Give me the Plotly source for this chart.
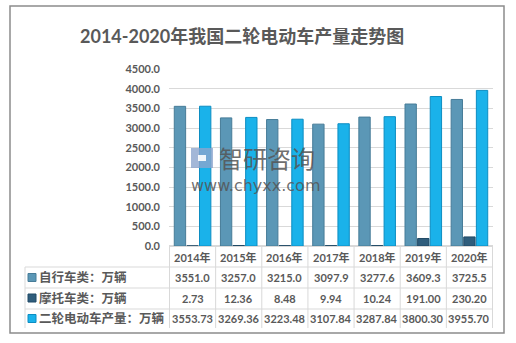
import plotly.graph_objects as go

years = ["2014年", "2015年", "2016年", "2017年", "2018年", "2019年", "2020年"]
bicycle = [3551.0, 3257.0, 3215.0, 3097.9, 3277.6, 3609.3, 3725.5]
motorcycle = [2.73, 12.36, 8.48, 9.94, 10.24, 191.00, 230.20]
total = [3553.73, 3269.36, 3223.48, 3107.84, 3287.84, 3800.30, 3955.70]

bicycle_txt = ["3551.0", "3257.0", "3215.0", "3097.9", "3277.6", "3609.3", "3725.5"]
motorcycle_txt = ["2.73", "12.36", "8.48", "9.94", "10.24", "191.00", "230.20"]
total_txt = ["3553.73", "3269.36", "3223.48", "3107.84", "3287.84", "3800.30", "3955.70"]

names = ["自行车类：万辆", "摩托车类：万辆", "二轮电动车产量：万辆"]
colors = ["#5B97B6", "#2F5D7C", "#1AB2EA"]
lines = ["#477C98", "#214A66", "#0C8DC2"]

W, H = 516, 343
L, R, T, B = 169, 23, 69, 97
PW, PH = W - L - R, H - T - B

def px(x):
    return (x - L) / PW

def py(y):
    return (H - B - y) / PH

font_fam = "Lato, 'Noto Sans CJK SC', sans-serif"
gray = "#595959"

fig = go.Figure()
for vals, nm, c, lc in zip([bicycle, motorcycle, total], names, colors, lines):
    fig.add_trace(go.Bar(x=years, y=vals, name=nm, marker=dict(color=c, line=dict(color=lc, width=1))))

shapes = []
# outer border
shapes.append(dict(type="rect", xref="paper", yref="paper", x0=px(10), x1=px(504), y0=py(6), y1=py(333),
                   line=dict(color="#8C8C8C", width=1.5), fillcolor="rgba(0,0,0,0)", layer="below"))
tbl = "#D9D9D9"
row_lines = [267, 288, 309]
for ry in row_lines:
    shapes.append(dict(type="line", xref="paper", yref="paper", x0=px(25), x1=1, y0=py(ry), y1=py(ry),
                       line=dict(color=tbl, width=1)))
for k in range(len(years) + 1):
    shapes.append(dict(type="line", xref="x", yref="paper", x0=k - 0.5, x1=k - 0.5, y0=0, y1=py(328),
                       line=dict(color=tbl, width=1)))
shapes.append(dict(type="line", xref="paper", yref="paper", x0=px(25), x1=px(25), y0=py(267), y1=py(328),
                   line=dict(color=tbl, width=1)))

annotations = []
row_y = [277.5, 298, 318.5]
for i, y in enumerate(years):
    annotations.append(dict(x=y, xref="x", y=py(257), yref="paper", text=y, showarrow=False,
                            xanchor="center", yanchor="middle",
                            font=dict(family=font_fam, size=11, color=gray, weight="bold")))
for rtexts, ry in zip([bicycle_txt, motorcycle_txt, total_txt], row_y):
    for y, t in zip(years, rtexts):
        annotations.append(dict(x=y, xref="x", y=py(ry), yref="paper", text=t, showarrow=False,
                                xanchor="center", yanchor="middle",
                                font=dict(family=font_fam, size=11, color=gray, weight="bold")))
for nm, c, lc, ry in zip(names, colors, lines, row_y):
    shapes.append(dict(type="rect", xref="paper", yref="paper", x0=px(28), x1=px(36), y0=py(ry + 4), y1=py(ry - 4),
                       fillcolor=c, line=dict(color=lc, width=1)))
    annotations.append(dict(x=px(37), xref="paper", y=py(ry), yref="paper", text=nm, showarrow=False,
                            xanchor="left", yanchor="middle",
                            font=dict(family=font_fam, size=12.5, color=gray, weight="bold")))

# title
annotations.append(dict(x=px(242), xref="paper", y=py(36), yref="paper", text="2014-2020年我国二轮电动车产量走势图",
                        showarrow=False, xanchor="center", yanchor="middle",
                        font=dict(family=font_fam, size=18, color=gray, weight="bold")))
# watermark
annotations.append(dict(x=px(217), xref="paper", y=py(157), yref="paper", text="智研咨询", showarrow=False,
                        xanchor="left", yanchor="middle",
                        font=dict(family="'Noto Sans CJK SC', sans-serif", size=24, color="rgba(85,85,85,0.85)")))
annotations.append(dict(x=px(189), xref="paper", y=py(185), yref="paper", text="www.chyxx.com", showarrow=False,
                        xanchor="left", yanchor="middle",
                        font=dict(family="'DejaVu Sans', sans-serif", size=16, color="rgba(85,85,85,0.85)")))
# watermark icon
shapes.append(dict(type="rect", xref="paper", yref="paper", x0=px(191), x1=px(213), y0=py(168), y1=py(148),
                   fillcolor="rgba(140,165,205,0.8)", line=dict(width=0)))
shapes.append(dict(type="rect", xref="paper", yref="paper", x0=px(198), x1=px(206), y0=py(161), y1=py(155),
                   fillcolor="rgba(255,255,255,0.9)", line=dict(width=0)))

fig.update_layout(
    width=W, height=H, margin=dict(l=L, r=R, t=T, b=B),
    paper_bgcolor="white", plot_bgcolor="white",
    barmode="group", bargap=0.18, bargroupgap=0.1,
    showlegend=False,
    shapes=shapes, annotations=annotations,
    xaxis=dict(showticklabels=False, showgrid=False, showline=False, ticks=""),
    yaxis=dict(range=[0, 4500], dtick=500, tickformat=".1f", showgrid=True, gridcolor="#D9D9D9",
               zeroline=True, zerolinecolor="#D9D9D9", showline=False, ticks="", ticklabelstandoff=8,
               tickfont=dict(family=font_fam, size=11, color=gray, weight="bold")),
)
fig.write_html("out.html")
